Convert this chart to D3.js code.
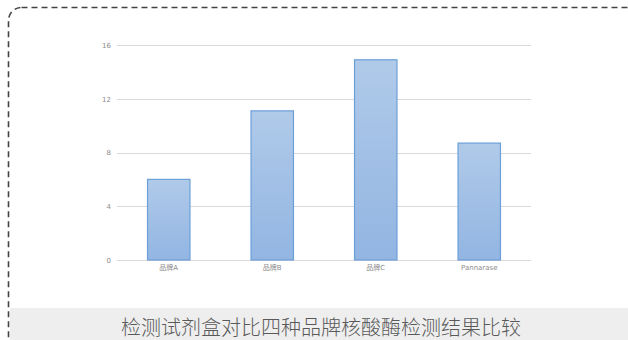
<!DOCTYPE html>
<html>
<head>
<meta charset="utf-8">
<script src="https://cdn.jsdelivr.net/npm/d3@7"></script>
<style>
  html, body { margin: 0; padding: 0; background: #ffffff; }
  svg { display: block; }
</style>
</head>
<body>
<svg id="chart" width="628" height="340"></svg>
<script>
// Data
const categories = ["品牌A", "品牌B", "品牌C", "Pannarase"];
const values = [6.0, 11.1, 14.9, 8.7];
const yTicks = [0, 4, 8, 12, 16];
const title = "检测试剂盒对比四种品牌核酸酶检测结果比较";

const svg = d3.select("#chart");
const W = 628, H = 340;
const plot = { left: 117, right: 531, top: 45, bottom: 260 };

// Dashed rounded frame (extends past the right and bottom edges)
svg.append("rect")
  .attr("x", 8.5).attr("y", 7.5)
  .attr("width", 640).attr("height", 360)
  .attr("rx", 13).attr("ry", 13)
  .attr("fill", "none")
  .attr("stroke", "#444")
  .attr("stroke-width", 1.6)
  .attr("stroke-dasharray", "6,4");

// Bar gradient
const defs = svg.append("defs");
const grad = defs.append("linearGradient")
  .attr("id", "barGrad").attr("x1", 0).attr("y1", 0).attr("x2", 0).attr("y2", 1);
grad.append("stop").attr("offset", "0%").attr("stop-color", "#b0cae9");
grad.append("stop").attr("offset", "100%").attr("stop-color", "#92b5e2");

const x = d3.scaleBand()
  .domain(categories)
  .range([plot.left, plot.right])
  .paddingInner(0.59)
  .paddingOuter(0.295);

const y = d3.scaleLinear()
  .domain([0, 16])
  .range([plot.bottom, plot.top]);

// Gridlines
svg.append("g")
  .selectAll("line")
  .data(yTicks)
  .join("line")
  .attr("x1", plot.left).attr("x2", plot.right)
  .attr("y1", d => Math.round(y(d)) + 0.5)
  .attr("y2", d => Math.round(y(d)) + 0.5)
  .attr("stroke", "#d9d9d9")
  .attr("stroke-width", 1);

// Y axis labels
const yAxis = d3.axisLeft(y).tickValues(yTicks).tickSize(0).tickPadding(0);
svg.append("g")
  .attr("transform", `translate(${plot.left - 6},0)`)
  .call(yAxis)
  .call(g => g.select(".domain").remove())
  .call(g => g.selectAll("text")
    .attr("fill", "#8c8c8c")
    .attr("font-family", "'DejaVu Sans', sans-serif")
    .attr("font-size", 7));

// Bars
svg.append("g")
  .selectAll("rect")
  .data(values)
  .join("rect")
  .attr("x", (d, i) => x(categories[i]))
  .attr("y", d => y(d))
  .attr("width", x.bandwidth())
  .attr("height", d => y(0) - y(d))
  .attr("fill", "url(#barGrad)")
  .attr("stroke", "#6b9fd9")
  .attr("stroke-width", 1.2);

// X axis labels
const xAxis = d3.axisBottom(x).tickSize(0).tickPadding(0);
svg.append("g")
  .attr("transform", `translate(0,${plot.bottom + 5})`)
  .call(xAxis)
  .call(g => g.select(".domain").remove())
  .call(g => g.selectAll("text")
    .attr("fill", "#8c8c8c")
    .attr("font-family", "'DejaVu Sans', 'Noto Sans CJK SC', sans-serif")
    .attr("font-size", 7));

// Title band
svg.append("rect")
  .attr("x", 10).attr("y", 308)
  .attr("width", W - 10).attr("height", H - 308)
  .attr("fill", "#eeeeee");

svg.append("text")
  .attr("x", 321).attr("y", 335)
  .attr("text-anchor", "middle")
  .attr("font-family", "'Noto Sans CJK SC', sans-serif")
  .attr("font-weight", 300)
  .attr("font-size", 20)
  .attr("fill", "#595959")
  .text(title);
</script>
</body>
</html>
